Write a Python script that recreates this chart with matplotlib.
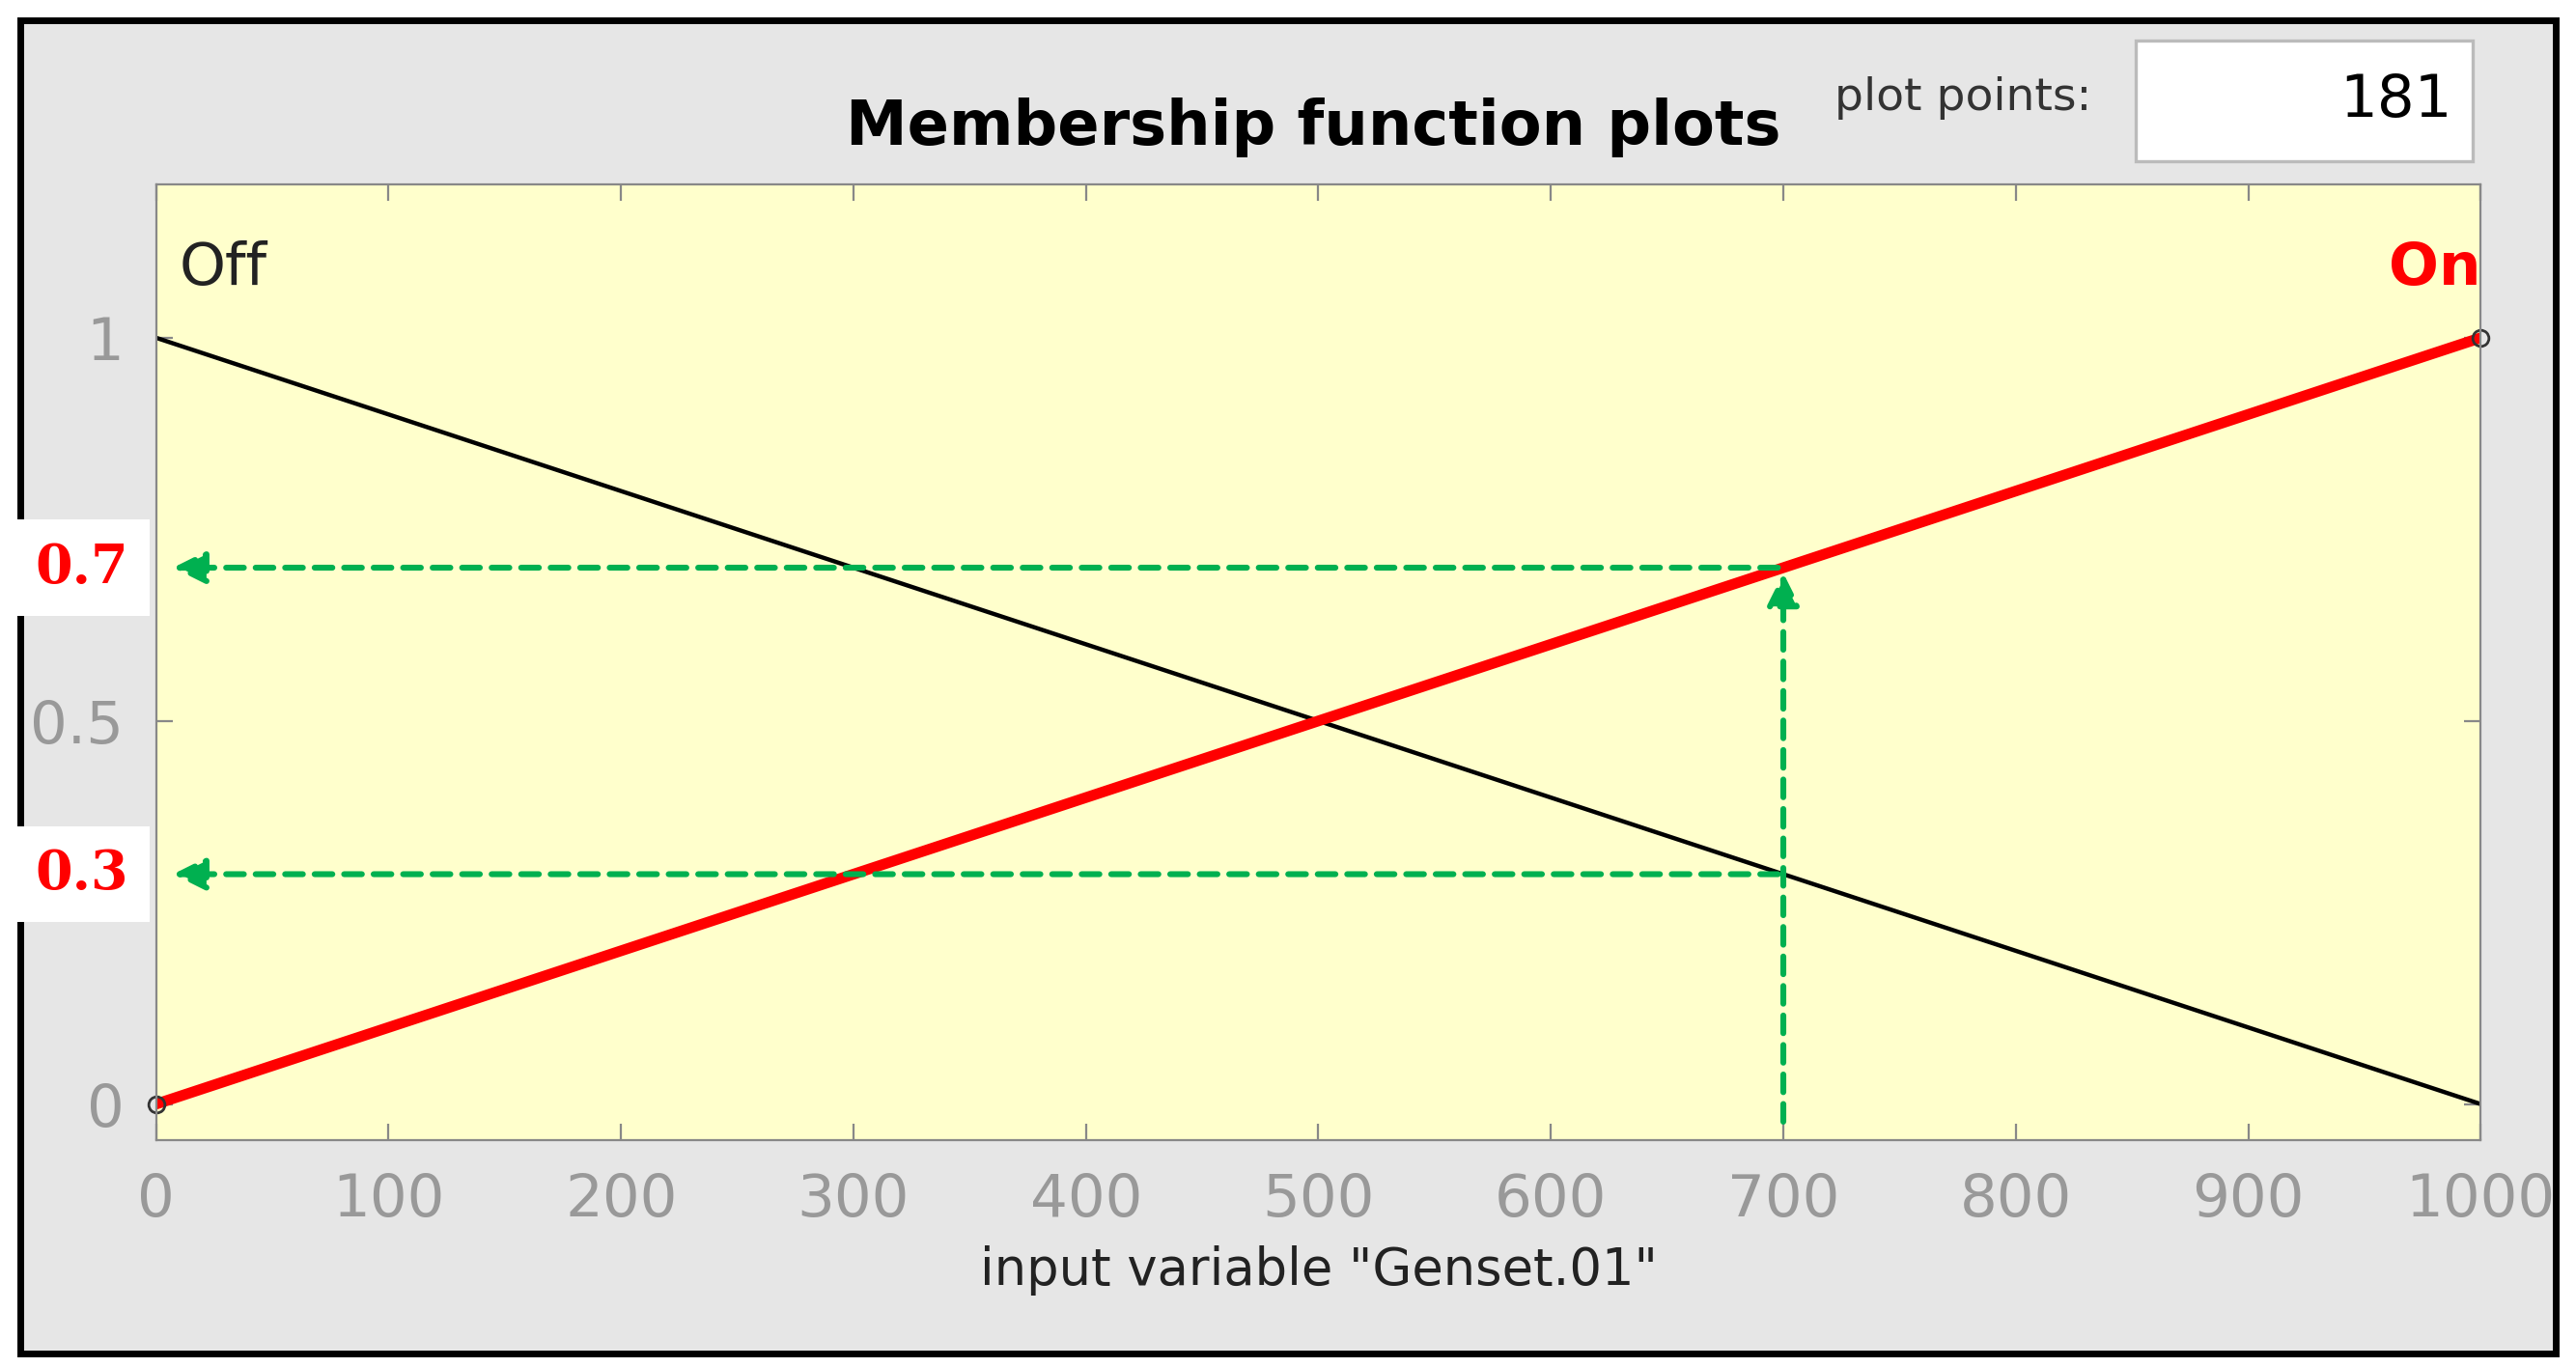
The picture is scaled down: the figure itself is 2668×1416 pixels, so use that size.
import matplotlib.pyplot as plt
from matplotlib.patches import Rectangle

x_range = [0, 1000]
off_mf = [1, 0]
on_mf = [0, 1]
x_ticks = [0, 100, 200, 300, 400, 500, 600, 700, 800, 900, 1000]
y_ticks = [0, 0.5, 1]
x_input = 700
levels = [0.7, 0.3]

fig = plt.figure(figsize=(13.34, 7.08), dpi=200)
fig.patch.set_facecolor("white")
# gray panel with black border, behind the axes
fig.patches.append(Rectangle((0.008, 0.01), 0.984, 0.975, transform=fig.transFigure,
                             facecolor="#e6e6e6", edgecolor="black", lw=2.5, zorder=-10))

ax = fig.add_axes([0.0606, 0.166, 0.9024, 0.699])
ax.set_facecolor("#ffffcc")
ax.plot(x_range, off_mf, color="black", lw=1.6)
ax.plot(x_range, on_mf, color="red", lw=4)
ax.plot(x_range, [0, 1], "o", color="none", mec="#333333", ms=6, clip_on=False)

arrow = dict(arrowstyle="-|>", color="#00b050", lw=2.2, ls=(0, (3, 2)), mutation_scale=25)
for lv in levels:
    ax.annotate("", xy=(5, lv), xytext=(x_input, lv), arrowprops=arrow)
ax.annotate("", xy=(x_input, 0.7), xytext=(x_input, -0.03), arrowprops=arrow)

ax.set_xlim(0, 1000)
ax.set_ylim(-0.047, 1.2)
ax.set_xticks(x_ticks)
ax.set_yticks(y_ticks)
ax.set_yticklabels(["0", "0.5", "1"])
ax.tick_params(direction="in", top=True, right=True, length=6, color="#888888",
               labelcolor="#999999", labelsize=22, pad=12)
for s in ax.spines.values():
    s.set_color("#888888")

ax.text(10, 1.09, "Off", fontsize=22, color="#222222", ha="left", va="center")
ax.text(1000, 1.09, "On", fontsize=22, color="red", fontweight="bold", ha="right", va="center")

for lv in levels:
    ax.text(-0.032, lv, f"{lv}", transform=ax.get_yaxis_transform(), color="red",
            fontsize=20, fontweight="bold", family="DejaVu Serif", ha="center", va="center",
            bbox=dict(facecolor="white", edgecolor="none", pad=8), clip_on=False)

ax.set_xlabel('input variable "Genset.01"', fontsize=19, color="#222222", labelpad=6)
fig.text(0.51, 0.907, "Membership function plots", fontsize=23, fontweight="bold",
         ha="center", va="center")
fig.text(0.712, 0.928, "plot points:", fontsize=17, color="#333333", ha="left", va="center")
fig.patches.append(Rectangle((0.829, 0.882), 0.131, 0.088, transform=fig.transFigure,
                             facecolor="white", edgecolor="#bbbbbb", lw=1.2, zorder=-5))
fig.text(0.952, 0.926, "181", fontsize=22, ha="right", va="center")

fig.savefig("out.png", dpi=200)
